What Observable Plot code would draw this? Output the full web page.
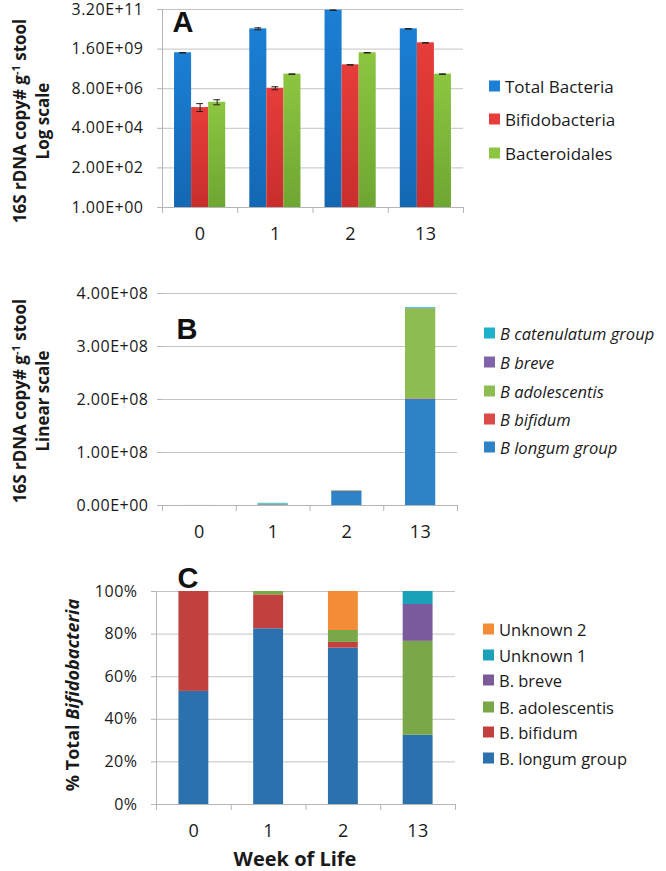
<!DOCTYPE html>
<html>
<head>
<meta charset="utf-8">
<script src="https://cdn.jsdelivr.net/npm/d3@7"></script>
<script src="https://cdn.jsdelivr.net/npm/@observablehq/plot@0.6"></script>
<style>
  html, body { margin: 0; padding: 0; background: #fff; }
  #root { position: relative; width: 666px; height: 871px; overflow: hidden; font-family: "Open Sans", sans-serif; color: #1a1a1a; }
  .panel { position: absolute; left: 0; }
  .ytitle { position: absolute; transform: translate(-50%, -50%) rotate(-90deg); white-space: nowrap; text-align: center; font-weight: bold; }
  .legend { position: absolute; }
  .legend .row { position: absolute; white-space: nowrap; display: flex; align-items: center; transform: translateY(-50%); }
  .legend .sw { width: 11px; height: 11px; margin-right: 5px; display: inline-block; }
  .xtitle { position: absolute; transform: translate(-50%, -50%); font-weight: bold; font-size: 20px; white-space: nowrap; line-height: 22px; }
</style>
</head>
<body>
<div id="root"></div>
<script>
// ---------------- data ----------------
const weeks = ["0", "1", "2", "13"];

// Panel A (log scale, copies per g stool)
const seriesA = ["Total Bacteria", "Bifidobacteria", "Bacteroidales"];
const totalBacteria  = [9.8e8, 2.4e10, 2.9e11, 2.4e10];
const bifidobacteria = [6.4e5, 8.5e6, 1.95e8, 3.7e9];
const bacteroidales  = [1.3e6, 5.6e7, 9.8e8, 5.6e7];
// multiplicative error (upper = v*e, lower = v/e)
const totalErr  = [1.04, 1.15, 1.03, 1.03];
const bifidoErr = [1.7, 1.22, 1.03, 1.03];
const bacterErr = [1.4, 1.03, 1.03, 1.03];
const ticksA = [1, 2e2, 4e4, 8e6, 1.6e9, 3.2e11];

// Panel B (linear scale, stacked)
const seriesB = ["B longum group", "B bifidum", "B adolescentis", "B breve", "B catenulatum group"];
const bLongum       = [6e4, 1.2e6, 2.65e7, 2.0e8];
const bBifidum      = [5e4, 3e5, 8e5, 1.2e6];
const bAdolescentis = [0, 1.2e6, 6e5, 1.70e8];
const bBreve        = [0, 0, 0, 5e5];
const bCatenulatum  = [0, 1.4e6, 0, 1.4e6];
const ticksB = [0, 1e8, 2e8, 3e8, 4e8];

// Panel C (% of total Bifidobacteria)
const seriesC = ["B. longum group", "B. bifidum", "B. adolescentis", "B. breve", "Unknown 1", "Unknown 2"];
const cLongum       = [53.1, 82.5, 73.4, 32.5];
const cBifidum      = [46.9, 15.9, 2.7, 0];
const cAdolescentis = [0, 1.6, 5.6, 44.1];
const cBreve        = [0, 0, 0, 17.3];
const cUnknown1     = [0, 0, 0, 6.1];
const cUnknown2     = [0, 0, 18.3, 0];
const ticksC = [0, 20, 40, 60, 80, 100];

// ---------------- styles ----------------
const colorsA = ["#1b7fd4", "#e63d3a", "#8cc640"];
const colorsAdark = ["#1468b3", "#c92e2c", "#6ea632"];
const colorsB = ["#2e82c6", "#dc4a45", "#8dbd50", "#8163aa", "#1fb0cc"];
const colorsC = ["#2a71ad", "#c1413f", "#7aa747", "#7a5a9a", "#1aa1ba", "#f48b37"];
const gridColor = "#c3c3c3";
const axisColor = "#b5b5b5";

const fmtE = v => {
  const [m, e] = v.toExponential(2).toUpperCase().split("E");
  const n = +e;
  return m + "E" + (n < 0 ? "-" : "+") + String(Math.abs(n)).padStart(2, "0");
};

const root = document.getElementById("root");
const W = 666;

function place(svg, top) {
  const wrap = document.createElement("div");
  wrap.className = "panel";
  wrap.style.top = top + "px";
  wrap.appendChild(svg);
  root.appendChild(wrap);
}

// gradient defs (render-function mark)
const NS = "http://www.w3.org/2000/svg";
function gradientDefs() {
  return () => {
    const g = document.createElementNS(NS, "g");
    const defs = document.createElementNS(NS, "defs");
    colorsA.forEach((c, k) => {
      const lg = document.createElementNS(NS, "linearGradient");
      lg.setAttribute("id", "gradA" + k);
      lg.setAttribute("x1", "0"); lg.setAttribute("y1", "0");
      lg.setAttribute("x2", "0"); lg.setAttribute("y2", "1");
      const s1 = document.createElementNS(NS, "stop");
      s1.setAttribute("offset", "0"); s1.setAttribute("stop-color", c);
      const s2 = document.createElementNS(NS, "stop");
      s2.setAttribute("offset", "1"); s2.setAttribute("stop-color", colorsAdark[k]);
      lg.appendChild(s1); lg.appendChild(s2);
      defs.appendChild(lg);
    });
    g.appendChild(defs);
    return g;
  };
}

const baseStyle = { fontFamily: "Open Sans", fontSize: "16px", letterSpacing: "0.5px", color: "#1a1a1a", background: "transparent", overflow: "visible" };

// ---------------- Panel A ----------------
{
  const valuesA = [totalBacteria, bifidobacteria, bacteroidales];
  const errsA = [totalErr, bifidoErr, bacterErr];
  const groupW = 0.68, barW = groupW / 3;
  const rows = weeks.flatMap((w, i) => seriesA.map((s, k) => {
    const x1 = i - groupW / 2 + k * barW;
    return { i, k, s, v: valuesA[k][i], e: errsA[k][i], x1, x2: x1 + barW, xc: x1 + barW / 2, fill: "url(#gradA" + k + ")" };
  }));
  const capW = 0.045;
  const svg = Plot.plot({
    width: W, height: 250,
    marginLeft: 162, marginRight: 203, marginTop: 9, marginBottom: 43,
    style: baseStyle,
    x: { type: "linear", domain: [-0.5, 3.5] },
    y: { type: "log", domain: [1, 3.2e11] },
    color: { type: "identity" },
    marks: [
      gradientDefs(),
      Plot.gridY(ticksA, { stroke: gridColor, strokeOpacity: 1 }),
      Plot.axisY({ ticks: ticksA, tickFormat: fmtE, tickSize: 5, tickPadding: 14, stroke: axisColor, label: null }),
      Plot.ruleX([-0.5], { stroke: axisColor }),
      Plot.rect(rows, { x1: "x1", x2: "x2", y1: 1, y2: "v", fill: "fill" }),
      Plot.ruleX(rows, { x: "xc", y1: d => d.v / d.e, y2: d => d.v * d.e, stroke: "#222", strokeWidth: 1 }),
      Plot.ruleY(rows, { x1: d => d.xc - capW, x2: d => d.xc + capW, y: d => d.v * d.e, stroke: "#222", strokeWidth: 1 }),
      Plot.ruleY(rows, { x1: d => d.xc - capW, x2: d => d.xc + capW, y: d => d.v / d.e, stroke: "#222", strokeWidth: 1 }),
      Plot.ruleY([1], { stroke: axisColor }),
      Plot.axisX({ ticks: [-0.5, 0.5, 1.5, 2.5, 3.5], tickFormat: () => "", tickSize: 6, stroke: axisColor, label: null }),
      Plot.axisX({ ticks: [0, 1, 2, 3], tickFormat: i => weeks[i], tickSize: 0, tickPadding: 20, fontSize: 18, label: null }),
      Plot.text(["A"], { frameAnchor: "top-left", dx: 10, dy: 2, lineAnchor: "top", textAnchor: "start", fontSize: 29, fontWeight: "bold", fontFamily: "Liberation Sans, Arial, sans-serif", fill: "#111" })
    ]
  });
  place(svg, 0);
}

// ---------------- Panel B ----------------
{
  const valuesB = [bLongum, bBifidum, bAdolescentis, bBreve, bCatenulatum];
  const halfW = 0.205;
  const rows = weeks.flatMap((w, i) => seriesB.map((s, k) => ({ i, k, s, v: valuesB[k][i], x1: i - halfW, x2: i + halfW, fill: colorsB[k] })));
  const svg = Plot.plot({
    width: W, height: 280,
    marginLeft: 162, marginRight: 209, marginTop: 23, marginBottom: 45,
    style: baseStyle,
    x: { type: "linear", domain: [-0.5, 3.5] },
    y: { type: "linear", domain: [0, 4e8] },
    color: { type: "identity" },
    marks: [
      Plot.gridY(ticksB, { stroke: gridColor, strokeOpacity: 1 }),
      Plot.axisY({ ticks: ticksB, tickFormat: fmtE, tickSize: 5, tickPadding: 9, stroke: axisColor, label: null }),
      Plot.rectY(rows, Plot.stackY({ x1: "x1", x2: "x2", y: "v", fill: "fill", order: "k" })),
      Plot.ruleY([0], { stroke: axisColor }),
      Plot.axisX({ ticks: [-0.5, 0.5, 1.5, 2.5, 3.5], tickFormat: () => "", tickSize: 6, stroke: axisColor, label: null }),
      Plot.axisX({ ticks: [0, 1, 2, 3], tickFormat: i => weeks[i], tickSize: 0, tickPadding: 20, fontSize: 18, label: null }),
      Plot.text(["B"], { frameAnchor: "top-left", dx: 14, dy: 25, lineAnchor: "top", textAnchor: "start", fontSize: 29, fontWeight: "bold", fontFamily: "Liberation Sans, Arial, sans-serif", fill: "#111" })
    ]
  });
  place(svg, 270);
}

// ---------------- Panel C ----------------
{
  const valuesC = [cLongum, cBifidum, cAdolescentis, cBreve, cUnknown1, cUnknown2];
  const halfW = 0.2;
  const rows = weeks.flatMap((w, i) => seriesC.map((s, k) => ({ i, k, s, v: valuesC[k][i], x1: i - halfW, x2: i + halfW, fill: colorsC[k] })));
  const svg = Plot.plot({
    width: W, height: 290,
    marginLeft: 156, marginRight: 211, marginTop: 31, marginBottom: 46,
    style: baseStyle,
    x: { type: "linear", domain: [-0.5, 3.5] },
    y: { type: "linear", domain: [0, 100] },
    color: { type: "identity" },
    marks: [
      Plot.gridY(ticksC, { stroke: gridColor, strokeOpacity: 1 }),
      Plot.axisY({ ticks: ticksC, tickFormat: d => d + "%", tickSize: 5, tickPadding: 14, stroke: axisColor, label: null }),
      Plot.ruleX([-0.5], { stroke: axisColor }),
      Plot.rectY(rows, Plot.stackY({ x1: "x1", x2: "x2", y: "v", fill: "fill", order: "k" })),
      Plot.ruleY([0], { stroke: axisColor }),
      Plot.axisX({ ticks: [-0.5, 0.5, 1.5, 2.5, 3.5], tickFormat: () => "", tickSize: 6, stroke: axisColor, label: null }),
      Plot.axisX({ ticks: [0, 1, 2, 3], tickFormat: i => weeks[i], tickSize: 0, tickPadding: 20, fontSize: 18, label: null }),
      Plot.text(["C"], { frameAnchor: "top-left", dx: 21, dy: -24, lineAnchor: "top", textAnchor: "start", fontSize: 29, fontWeight: "bold", fontFamily: "Liberation Sans, Arial, sans-serif", fill: "#111" })
    ]
  });
  place(svg, 560);
}

// ---------------- HTML titles & legends ----------------
function ytitle(html, cx, cy, size, lh) {
  const d = document.createElement("div");
  d.className = "ytitle";
  d.style.left = cx + "px";
  d.style.top = cy + "px";
  d.style.fontSize = size + "px";
  d.style.lineHeight = lh + "px";
  d.innerHTML = html;
  root.appendChild(d);
}
ytitle("16S rDNA copy# g<sup style='font-size:0.65em;vertical-align:0.55em;line-height:0'>-1</sup> stool<br>Log scale", 31, 121, 17, 23);
ytitle("16S rDNA copy# g<sup style='font-size:0.65em;vertical-align:0.55em;line-height:0'>-1</sup> stool<br>Linear scale", 31, 401, 17, 23);
ytitle("% Total <i>Bifidobacteria</i>", 72, 695, 18, 22);

function legend(names, colors, left, ys, italic, size) {
  const lg = document.createElement("div");
  lg.className = "legend";
  lg.style.left = left + "px";
  lg.style.top = "0px";
  lg.style.fontSize = size + "px";
  names.forEach((n, k) => {
    const r = document.createElement("div");
    r.className = "row";
    r.style.top = ys[k] + "px";
    const sw = document.createElement("span");
    sw.className = "sw";
    sw.style.background = colors[k];
    const t = document.createElement("span");
    t.textContent = n;
    if (italic) t.style.fontStyle = "italic";
    r.appendChild(sw); r.appendChild(t);
    lg.appendChild(r);
  });
  root.appendChild(lg);
}
legend(seriesA, colorsA, 489, [86, 119, 153], false, 17);
legend(seriesB.slice().reverse(), colorsB.slice().reverse(), 484, [333, 362, 391, 419, 447], true, 16.5);
const orderC = [5, 4, 3, 2, 1, 0];
legend(orderC.map(k => seriesC[k]), orderC.map(k => colorsC[k]), 483, [629, 655, 680, 707, 732, 758], false, 16.5);

const xt = document.createElement("div");
xt.className = "xtitle";
xt.style.left = "295px";
xt.style.top = "859px";
xt.textContent = "Week of Life";
root.appendChild(xt);
</script>
</body>
</html>
